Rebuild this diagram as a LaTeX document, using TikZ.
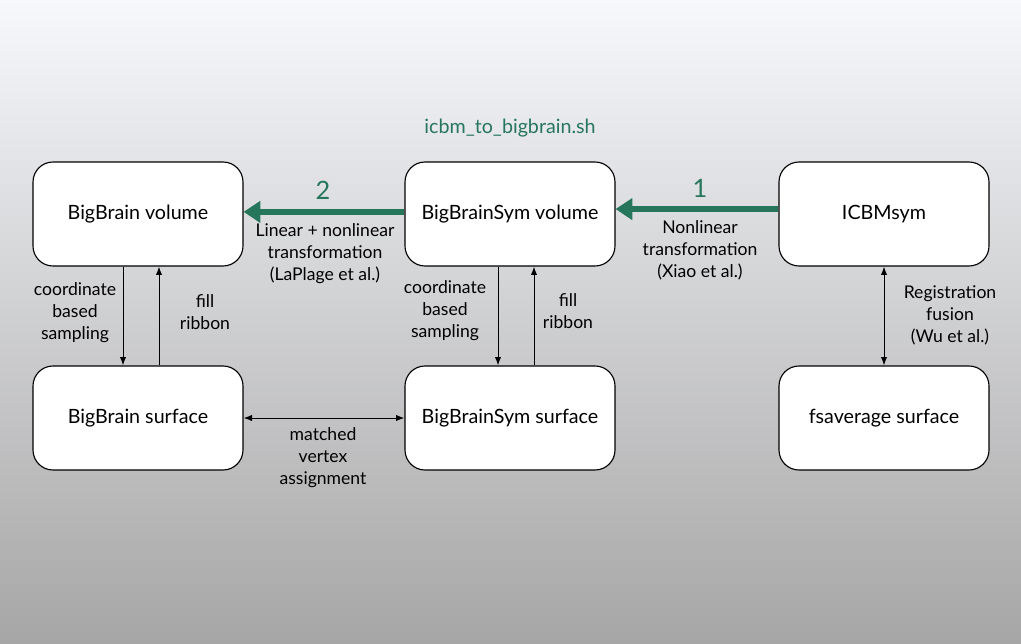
\documentclass[tikz,border=0pt]{standalone}
\usepackage{fontspec}
\setmainfont{Lato}
\usetikzlibrary{arrows.meta}

\definecolor{scriptgreen}{RGB}{38,118,92}
\definecolor{bgtop}{RGB}{247,248,252}
\definecolor{bgbottom}{RGB}{166,166,166}

\tikzset{
  databox/.style={draw=black, fill=white, rounded corners=0.5cm,
    line width=0.8pt, minimum width=5.25cm, minimum height=2.6cm,
    font=\fontsize{14}{16}\selectfont},
  note/.style={align=center, font=\fontsize{12.5}{15.6}\selectfont},
  mapping/.style={line width=0.7pt, -{Latex[length=6pt,width=4.5pt]}},
  bimapping/.style={line width=0.7pt, {Latex[length=6pt,width=4.5pt]}-{Latex[length=6pt,width=4.5pt]}},
  warp/.style={scriptgreen, line width=4.3pt, -{Triangle[length=12pt,width=15pt]}},
}

\begin{document}
\begin{tikzpicture}
  \useasboundingbox (0,0) rectangle (25.525,16.075);
  \shade[top color=bgtop, bottom color=bgbottom] (0,0) rectangle (25.525,16.075);

  % volumes
  \node[databox] (bbvol)    at (3.45,10.725)  {BigBrain volume};
  \node[databox] (bbsymvol) at (12.75,10.725) {BigBrainSym volume};
  \node[databox] (icbm)     at (22.1,10.725)  {ICBMsym};
  % surfaces
  \node[databox] (bbsurf)    at (3.45,5.625)  {BigBrain surface};
  \node[databox] (bbsymsurf) at (12.75,5.625) {BigBrainSym surface};
  \node[databox] (fssurf)    at (22.1,5.625)  {fsaverage surface};

  \node[scriptgreen, font=\fontsize{14}{16}\selectfont] (script) at (12.75,12.875) {icbm\_to\_bigbrain.sh};

  % transformations
  \draw[warp] ([yshift=1.5pt]bbsymvol.west) -- ([yshift=1.5pt]bbvol.east);
  \draw[warp] ([yshift=3.5pt]icbm.west) -- ([yshift=3.5pt]bbsymvol.east);
  \node[scriptgreen, font=\fontsize{18}{20}\selectfont] (steptwo) at (8.075,11.325) {2};
  \node[scriptgreen, font=\fontsize{18}{20}\selectfont] (stepone) at (17.5,11.375) {1};
  \node[note] (laplage) at (8.125,9.725) {Linear + nonlinear\\transformation\\(LaPlage et al.)};
  \node[note] (xiao) at (17.5,9.825) {Nonlinear\\transformation\\(Xiao et al.)};

  % volume <-> surface
  \draw[mapping] ([xshift=-0.375cm]bbvol.south) -- ([xshift=-0.375cm]bbsurf.north);
  \draw[mapping] ([xshift=0.525cm]bbsurf.north) -- ([xshift=0.525cm]bbvol.south);
  \draw[mapping] ([xshift=-0.3cm]bbsymvol.south) -- ([xshift=-0.3cm]bbsymsurf.north);
  \draw[mapping] ([xshift=0.6cm]bbsymsurf.north) -- ([xshift=0.6cm]bbsymvol.south);
  \draw[bimapping] (icbm.south) -- (fssurf.north);
  \draw[bimapping] (bbsurf.east) -- (bbsymsurf.west);

  \node[note] (bbsample)   at (1.875,8.25) {coordinate\\based\\sampling};
  \node[note] (bbfill)     at (5.125,8.275) {fill\\ribbon};
  \node[note] (symsample)  at (11.125,8.3) {coordinate\\based\\sampling};
  \node[note] (symfill)    at (14.2,8.3) {fill\\ribbon};
  \node[note] (regfusion)  at (23.75,8.2) {Registration\\fusion\\(Wu et al.)};
  \node[note] (matched)    at (8.075,4.625) {matched\\vertex\\assignment};
\end{tikzpicture}
\end{document}
